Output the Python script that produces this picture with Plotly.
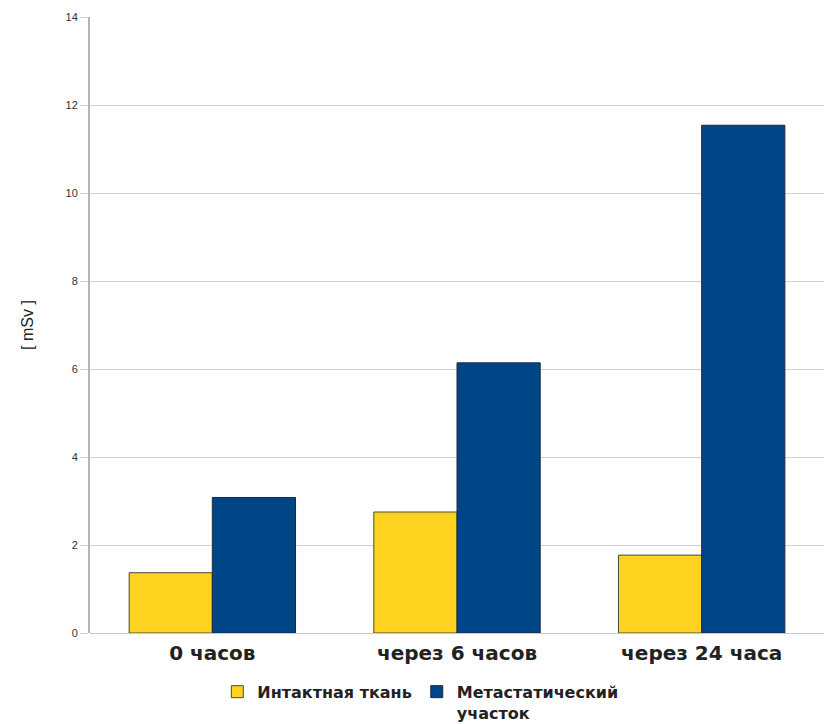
import plotly.graph_objects as go

categories = ["0 часов", "через 6 часов", "через 24 часа"]
intact = [1.37, 2.75, 1.77]
metastatic = [3.08, 6.14, 11.54]
series_names = ["<b>Интактная ткань</b>", "<b>Метастатический<br>участок</b>"]
y_ticks = [0, 2, 4, 6, 8, 10, 12, 14]

fig = go.Figure()
fig.add_trace(go.Bar(
    x=categories, y=intact, name=series_names[0],
    marker=dict(color="#ffd320", line=dict(color="#4a4a30", width=1)),
))
fig.add_trace(go.Bar(
    x=categories, y=metastatic, name=series_names[1],
    marker=dict(color="#004586", line=dict(color="#1a2a40", width=1)),
))

fig.update_layout(
    width=826, height=724,
    margin=dict(l=90, r=2, t=17, b=91, autoexpand=False),
    paper_bgcolor="white", plot_bgcolor="white",
    barmode="group", bargap=0.32, bargroupgap=0,
    font=dict(family="Liberation Sans, Arial, sans-serif", color="#222"),
    showlegend=True,
    legend=dict(
        orientation="h", x=0.45, xanchor="center",
        yref="container", y=0.068, yanchor="top", valign="top",
        font=dict(family="DejaVu Sans, sans-serif", size=16, color="#222"),
        itemwidth=30, traceorder="normal", tracegroupgap=0,
    ),
)
fig.update_xaxes(
    tickmode="array", tickvals=categories,
    ticktext=[f"<b>{c}</b>" for c in categories],
    tickfont=dict(family="DejaVu Sans, sans-serif", size=20, color="#222"),
    ticklabelstandoff=6, automargin=False,
    showline=False, ticks="", showgrid=False,
)
fig.update_yaxes(
    range=[0, 14], tickvals=y_ticks, automargin=False,
    tickfont=dict(size=11, color="#333"),
    showgrid=True, gridcolor="#d4d4d4", gridwidth=1,
    zeroline=True, zerolinecolor="#c8c8c8", zerolinewidth=1,
    showline=True, linecolor="#b5b5b5", linewidth=2,
    ticks="outside", ticklen=8, tickcolor="#d4d4d4",
    title=dict(text="[ mSv ]", font=dict(size=16, color="#222"), standoff=28),
)
fig.write_html("out.html")
